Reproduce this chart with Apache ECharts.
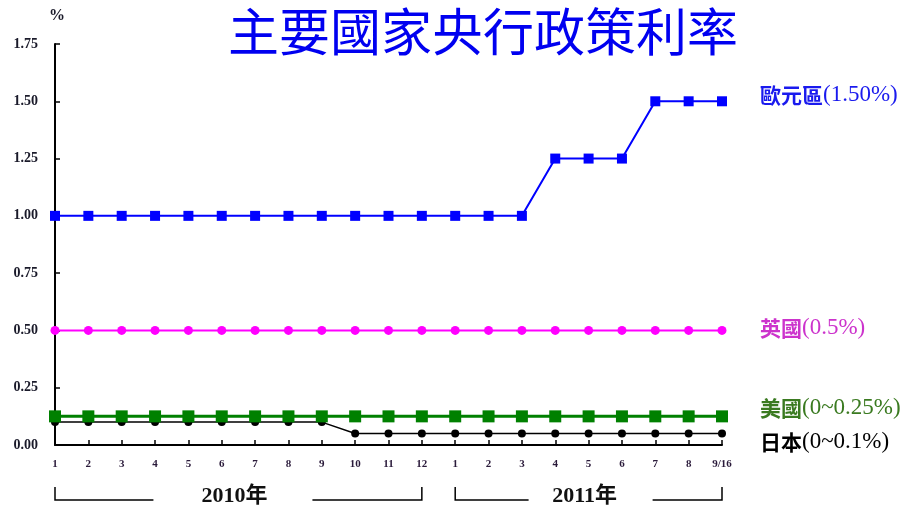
<!DOCTYPE html>
<html>
<head>
<meta charset="utf-8">
<script src="https://cdn.jsdelivr.net/npm/echarts@6/dist/echarts.min.js"></script>
<style>html,body{margin:0;padding:0;background:#fff}#c{width:916px;height:509px}</style>
</head>
<body>
<div id="c"></div>
<script>
const categories = ['1','2','3','4','5','6','7','8','9','10','11','12','1','2','3','4','5','6','7','8','9/16'];
const yearGroups = [
  { label: '2010年', from: 0, to: 11 },
  { label: '2011年', from: 12, to: 20 }
];
const euroArea = [1,1,1,1,1,1,1,1,1,1,1,1,1,1,1,1.25,1.25,1.25,1.5,1.5,1.5];
const uk = [0.5,0.5,0.5,0.5,0.5,0.5,0.5,0.5,0.5,0.5,0.5,0.5,0.5,0.5,0.5,0.5,0.5,0.5,0.5,0.5,0.5];
const us = [0.125,0.125,0.125,0.125,0.125,0.125,0.125,0.125,0.125,0.125,0.125,0.125,0.125,0.125,0.125,0.125,0.125,0.125,0.125,0.125,0.125];
const japan = [0.1,0.1,0.1,0.1,0.1,0.1,0.1,0.1,0.1,0.05,0.05,0.05,0.05,0.05,0.05,0.05,0.05,0.05,0.05,0.05,0.05];
const seriesNames = ['歐元區', '英國', '美國', '日本'];
const seriesTags = ['(1.50%)', '(0.5%)', '(0~0.25%)', '(0~0.1%)'];

const serif = '"Liberation Serif","Times New Roman","Noto Sans CJK TC",serif';
const cjk = '"Noto Sans CJK TC",sans-serif';

function endLabel(i, color, dy) {
  return {
    show: true,
    formatter: '{a|' + seriesNames[i] + '}{b|' + seriesTags[i] + '}',
    offset: [30, dy],
    rich: {
      a: { fontFamily: cjk, fontSize: 21, fontWeight: 'bold', color: color },
      b: { fontFamily: serif, fontSize: 23, color: color }
    }
  };
}

const chart = echarts.init(document.getElementById('c'), null, { renderer: 'canvas' });
const option = {
  animation: false,
  backgroundColor: '#ffffff',
  title: {
    text: '主要國家央行政策利率',
    left: 478, top: 1, textAlign: 'center',
    textStyle: { fontFamily: cjk, fontSize: 51, fontWeight: 'normal', color: '#0000f0' }
  },
  grid: { left: 55, right: 194, top: 44, bottom: 64, containLabel: false },
  xAxis: {
    type: 'category',
    data: categories,
    boundaryGap: false,
    axisLine: { lineStyle: { color: '#000', width: 2 } },
    axisTick: { inside: true, length: 5, lineStyle: { color: '#000', width: 1.5 } },
    axisLabel: { margin: 14, fontFamily: serif, fontSize: 11, fontWeight: 'bold', color: '#2a1a3a' },
    splitLine: { show: false }
  },
  yAxis: {
    type: 'value',
    min: 0, max: 1.75, interval: 0.25,
    name: '%',
    nameLocation: 'end',
    nameGap: 20,
    nameTextStyle: { fontFamily: serif, fontSize: 16, fontWeight: 'bold', color: '#1a1a2a', align: 'center', padding: [0, 0, 0, 4] },
    axisLine: { show: true, lineStyle: { color: '#000', width: 2 } },
    axisTick: { show: true, inside: true, length: 5, lineStyle: { color: '#000', width: 1.5 } },
    axisLabel: { margin: 17, fontFamily: serif, fontSize: 14, fontWeight: 'bold', color: '#1a1a2a',
      formatter: v => v.toFixed(2) },
    splitLine: { show: false }
  },
  series: [
    { name: seriesNames[0], type: 'line', data: euroArea, symbol: 'rect', symbolSize: 10,
      itemStyle: { color: '#0000ff' }, lineStyle: { color: '#0000ff', width: 2 },
      endLabel: endLabel(0, '#1a1aee', -6) },
    { name: seriesNames[1], type: 'line', data: uk, symbol: 'circle', symbolSize: 9,
      itemStyle: { color: '#ff00ff' }, lineStyle: { color: '#ff00ff', width: 2 },
      endLabel: endLabel(1, '#cc33cc', -2) },
    { name: seriesNames[3], type: 'line', data: japan, symbol: 'circle', symbolSize: 8,
      itemStyle: { color: '#000' }, lineStyle: { color: '#000', width: 1.5 },
      endLabel: endLabel(3, '#000000', 8) },
    { name: seriesNames[2], type: 'line', data: us, symbol: 'rect', symbolSize: 12,
      itemStyle: { color: '#008000' }, lineStyle: { color: '#008000', width: 3 },
      endLabel: endLabel(2, '#3a7a20', -8) }
  ]
};
chart.setOption(option);

// year brackets under the axis
const gaps = [[85, 74], [60, 64]];
const graphics = [];
const yLine = 500, yTop = 487;
yearGroups.forEach((g, k) => {
  const x1 = chart.convertToPixel({ xAxisIndex: 0 }, g.from);
  const x2 = chart.convertToPixel({ xAxisIndex: 0 }, g.to);
  const cx = (x1 + x2) / 2;
  const ls = { stroke: '#000', lineWidth: 1.5 };
  graphics.push({ type: 'polyline', shape: { points: [[x1, yTop], [x1, yLine], [cx - gaps[k][0], yLine]] }, style: ls, silent: true });
  graphics.push({ type: 'polyline', shape: { points: [[cx + gaps[k][1], yLine], [x2, yLine], [x2, yTop]] }, style: ls, silent: true });
  graphics.push({ type: 'text', x: cx - 4, y: 496, style: {
    text: g.label, fill: '#111', font: 'bold 22px ' + serif, textAlign: 'center', textVerticalAlign: 'middle' } });
});
chart.setOption({ graphic: graphics });
</script>
</body>
</html>
